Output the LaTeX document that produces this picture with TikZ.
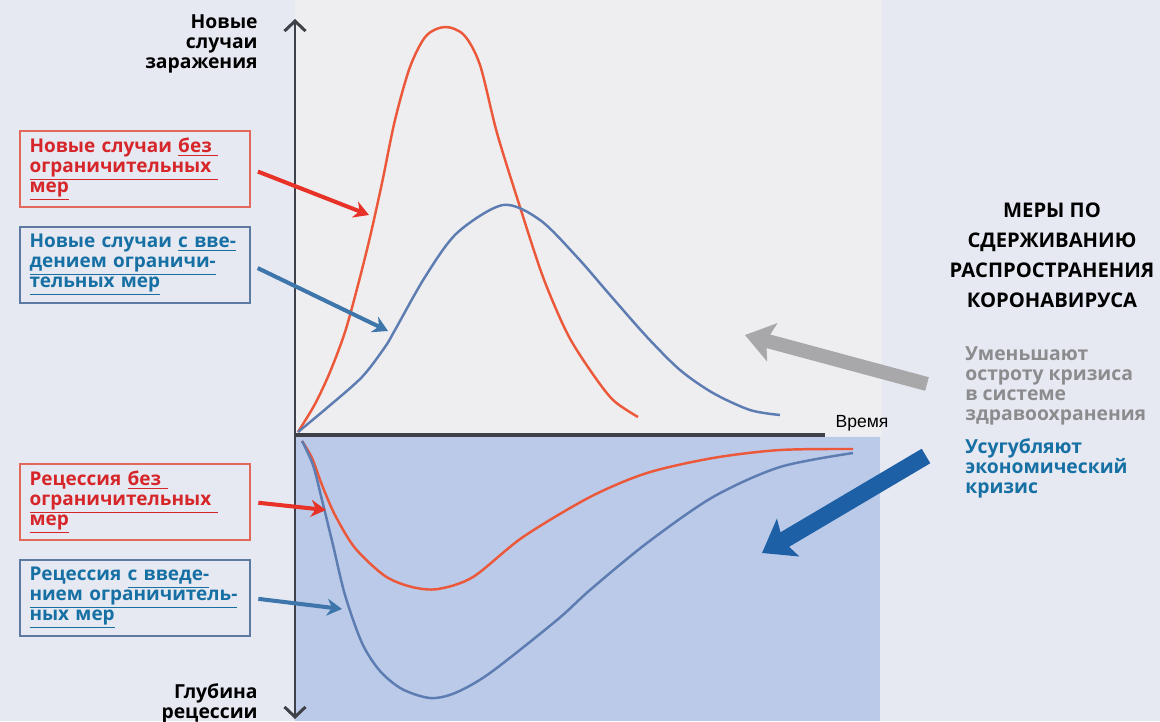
\documentclass[tikz,border=0pt]{standalone}
\usepackage{fontspec}
\setmainfont{Open Sans}
\newfontfamily\timefont{Liberation Sans}
\usetikzlibrary{arrows.meta,positioning}

\definecolor{pagebg}{RGB}{230,233,242}
\definecolor{plotbg}{RGB}{238,238,240}
\definecolor{recbg}{RGB}{186,202,232}
\definecolor{axisgrey}{RGB}{62,65,72}
\definecolor{curvered}{RGB}{236,88,58}
\definecolor{curveblue}{RGB}{92,124,178}
\definecolor{textred}{RGB}{214,38,42}
\definecolor{textblue}{RGB}{22,112,164}
\definecolor{textgrey}{RGB}{140,140,142}
\definecolor{boxred}{RGB}{226,104,92}
\definecolor{boxblue}{RGB}{92,122,162}
\definecolor{arrred}{RGB}{232,50,40}
\definecolor{arrblue}{RGB}{62,118,172}
\definecolor{bigblue}{RGB}{30,96,166}
\definecolor{biggrey}{RGB}{168,168,170}

\newcommand{\undl}[1]{\underline{#1}}

\tikzset{
  txt/.style={font=\fontsize{11}{11.4}\selectfont\bfseries},
  keybox/.style={font=\fontsize{10.8}{11.3}\selectfont\bfseries, draw, line width=1.6pt,
    inner xsep=0.19cm, inner ysep=0pt, text width=4.22cm, minimum height=1.52cm, align=left},
  curve/.style={line width=1.4pt, smooth},
  pointer/.style={line width=2.3pt, shorten <=0.14cm, -{Stealth[length=0.3cm,width=0.34cm]}},
  axisline/.style={draw=axisgrey, line width=1.7pt}
}

\begin{document}
\begin{tikzpicture}[x=0.02cm, y=-0.02cm]
\useasboundingbox (0,0) rectangle (1160,721);
\fill[pagebg] (0,0) rectangle (1160,721);
\fill[plotbg] (295,0) rectangle (882,436);
\fill[recbg] (295,437) rectangle (880,721);

% axes
\coordinate (origin) at (295,435);
\coordinate (ytop) at (295,19);
\coordinate (ybot) at (295,719);
\coordinate (tend) at (825,435);
\draw[axisline, {Straight Barb[length=0.2cm,width=0.42cm]}-{Straight Barb[length=0.2cm,width=0.42cm]}] (ytop) -- (ybot);
\draw[axisline, line width=2.3pt] (origin) -- (tend);
\node[txt, anchor=north east, align=right, inner sep=0pt] (ylabtop) at (258,14) {Новые\\случаи\\заражения};
\node[txt, anchor=north east, align=right, inner sep=0pt] (ylabbot) at (258,683) {Глубина\\рецессии};
\node[font=\timefont\fontsize{10}{12}\selectfont] (timelab) at (862,423) {Время};

% new cases
\draw[curve, curvered] plot coordinates {(298,432) (315,404) (330,372) (345,332) (358,285) (370,237)
  (382,183) (395,120) (410,67) (426,36) (445,27) (464,35) (480,65) (497,133) (520,207) (543,277)
  (567,333) (590,370) (613,400) (638,417)};
\draw[curve, curveblue] plot coordinates {(298,432) (328,407) (362,377) (385,347) (395,330) (425,277)
  (457,233) (503,205) (540,220) (577,257) (610,295) (647,337) (680,370) (713,393) (750,410) (780,415)};

% recession
\draw[curve, curvered] plot coordinates {(302,441) (312,458) (322,485) (335,515) (355,548) (385,576)
  (412,587) (438,589) (473,577) (523,537) (590,497) (647,473) (713,458) (780,450) (853,449)};
\draw[curve, curveblue] plot coordinates {(302,441) (313,465) (322,500) (333,545) (345,595) (362,643)
  (380,671) (402,689) (430,698) (455,693) (490,673) (557,620) (590,590) (647,543) (713,497)
  (780,467) (853,453)};

% keys
\node[keybox, draw=boxred, text=textred] (newnone) at (135,169)
  {Новые случаи \undl{без }\\\undl{ограничительных }\\\undl{мер}};
\node[keybox, draw=boxblue, text=textblue] (newlock) at (135,265)
  {Новые случаи \undl{с вве-}\\\undl{дением ограничи-}\\\undl{тельных мер}};
\node[keybox, draw=boxred, text=textred] (recnone) at (135,502)
  {Рецессия \undl{без }\\\undl{ограничительных }\\\undl{мер}};
\node[keybox, draw=boxblue, text=textblue] (reclock) at (135,598)
  {Рецессия \undl{с введе-}\\\undl{нием ограничитель-}\\\undl{ных мер}};

\coordinate (newnonetip) at (369,215);
\coordinate (newlocktip) at (388,331);
\coordinate (recnonetip) at (326,510);
\coordinate (reclocktip) at (342,609);
\draw[pointer, arrred] (newnone.east) -- (newnonetip);
\draw[pointer, arrblue] (newlock.east) -- (newlocktip);
\draw[pointer, arrred] (recnone.east) -- (recnonetip);
\draw[pointer, arrblue] (reclock.east) -- (reclocktip);

% measures
\node[font=\fontsize{11.5}{17}\selectfont\bfseries, align=center] (measures) at (1052,255)
  {МЕРЫ ПО\\СДЕРЖИВАНИЮ\\РАСПРОСТРАНЕНИЯ\\КОРОНАВИРУСА};
\node[txt, text=textgrey, anchor=north west, align=left, inner sep=0pt] (relief) at (965,346)
  {Уменьшают\\остроту кризиса\\в системе\\здравоохранения};
\node[txt, text=textblue, anchor=north west, align=left, inner sep=0pt] (worsen) at (965,438)
  {Усугубляют\\экономический\\кризис};

\coordinate (greytail) at (927,384);
\coordinate (greytip) at (745,335);
\coordinate (bluetail) at (926,456);
\coordinate (bluetip) at (762,553);
\draw[biggrey, line width=8pt, -{Stealth[length=0.56cm 0,width=0.78cm 0,inset=0.12cm 0]}] (greytail) -- (greytip);
\draw[bigblue, line width=9.6pt, -{Stealth[length=0.6cm 0,width=0.86cm 0,inset=0.12cm 0]}] (bluetail) -- (bluetip);
\end{tikzpicture}
\end{document}
